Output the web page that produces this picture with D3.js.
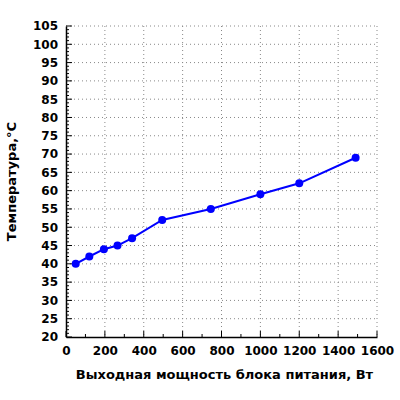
<!DOCTYPE html>
<html><head><meta charset="utf-8">
<script src="https://cdn.jsdelivr.net/npm/d3@7"></script>
<style>body{margin:0;background:#fff}</style>
</head><body><div id="chart"></div>
<script>
const power = [50, 120, 195, 265, 340, 495, 745, 1000, 1200, 1490];
const temp = [40, 42, 44, 45, 47, 52, 55, 59, 62, 69];
const xTicks = d3.range(0, 1601, 200);
const yTicks = d3.range(20, 106, 5);

const margin = { top: 26, right: 23, bottom: 63, left: 66 },
    width = 400 - margin.left - margin.right,
    height = 400 - margin.top - margin.bottom;
const font = "font-family: 'DejaVu Sans', sans-serif; font-weight: bold";

const svg = d3.select("#chart").append("svg")
    .attr("width", 400).attr("height", 400)
    .append("g")
    .attr("transform", `translate(${margin.left},${margin.top})`);

const x = d3.scaleLinear().domain([0, 1600]).range([0, width]);
const y = d3.scaleLinear().domain([20, 105]).range([height, 0]);

// grid
svg.append("g").selectAll("line").data(xTicks.slice(1)).join("line")
    .attr("x1", d => x(d)).attr("x2", d => x(d)).attr("y1", 0).attr("y2", height)
    .attr("stroke", "#888").attr("stroke-dasharray", "1,3");
svg.append("g").selectAll("line").data(yTicks.slice(1)).join("line")
    .attr("x1", 0).attr("x2", width).attr("y1", d => y(d)).attr("y2", d => y(d))
    .attr("stroke", "#888").attr("stroke-dasharray", "1,3");

// minor ticks
svg.append("g").selectAll("line").data(d3.range(20, 106, 1)).join("line")
    .attr("x1", 0).attr("x2", d => d % 5 === 0 ? 6 : 3)
    .attr("y1", d => y(d)).attr("y2", d => y(d)).attr("stroke", "#000");
svg.append("g").selectAll("line").data(d3.range(0, 1601, 100)).join("line")
    .attr("y1", height).attr("y2", d => height - (d % 200 === 0 ? 6 : 3))
    .attr("x1", d => x(d)).attr("x2", d => x(d)).attr("stroke", "#000");

// axes
const xAxis = svg.append("g").attr("transform", `translate(0,${height})`)
    .call(d3.axisBottom(x).tickValues(xTicks).tickFormat(d3.format("d")).tickSize(0).tickPadding(9));
const yAxis = svg.append("g")
    .call(d3.axisLeft(y).tickValues(yTicks).tickFormat(d3.format("d")).tickSize(0).tickPadding(8));
[xAxis, yAxis].forEach(a => {
    a.select(".domain").attr("stroke", "#000").attr("stroke-width", 1.5);
    a.selectAll("text").attr("style", font + "; font-size: 12px").attr("fill", "#000");
});

// line and points
svg.append("path").datum(power.map((p, i) => [p, temp[i]]))
    .attr("fill", "none").attr("stroke", "#0000ff").attr("stroke-width", 2)
    .attr("d", d3.line().x(d => x(d[0])).y(d => y(d[1])));
svg.append("g").selectAll("circle").data(power).join("circle")
    .attr("cx", d => x(d)).attr("cy", (d, i) => y(temp[i])).attr("r", 4)
    .attr("fill", "#0000ff");

// labels
svg.append("text").attr("x", width / 2 + 3).attr("y", height + 42)
    .attr("text-anchor", "middle").attr("style", font + "; font-size: 13px")
    .text("Выходная мощность блока питания, Вт");
svg.append("text").attr("transform", `translate(-50,${height / 2}) rotate(-90)`)
    .attr("text-anchor", "middle").attr("style", font + "; font-size: 13px")
    .text("Температура,°C");
</script></body></html>
